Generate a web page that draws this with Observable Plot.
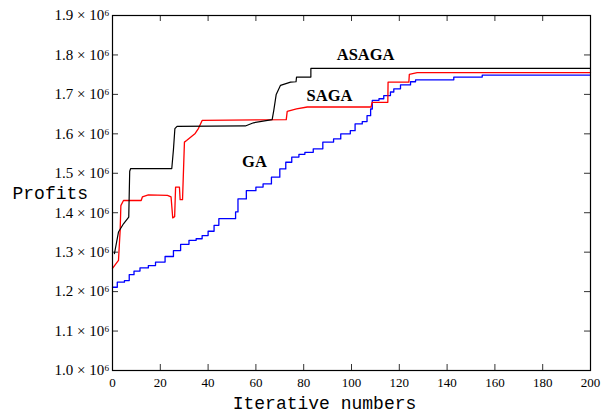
<!DOCTYPE html>
<html><head><meta charset="utf-8">
<script src="https://cdn.jsdelivr.net/npm/d3@7"></script>
<script src="https://cdn.jsdelivr.net/npm/@observablehq/plot@0.6"></script>
<style>body{margin:0;background:#fff}</style>
</head><body><div id="chart"></div>
<script>
// Profits in units of 10^6
const asagaX = [0.8, 2.5, 4.6, 6.8, 7.2, 7.6, 24.8, 25.5, 26.1, 27.0, 55.6, 59.0, 66.8, 67.5, 68.5, 70.3, 74.5, 76.8, 77.0, 83.0, 83.0, 200];
const asagaY = [1.296, 1.351, 1.372, 1.389, 1.505, 1.512, 1.512, 1.56, 1.613, 1.619, 1.620, 1.628, 1.636, 1.66, 1.70, 1.723, 1.731, 1.732, 1.744, 1.744, 1.766, 1.766];

const sagaX = [0, 2.5, 3.2, 3.5, 4.6, 12, 12.5, 15, 23, 24.5, 25.2, 26.0, 26.4, 28.0, 28.3, 29.3, 30.1, 31.0, 34.6, 36.0, 37.5, 72.7, 73.1, 77.0, 81.5, 108.2, 108.6, 115.2, 115.3, 124.0, 124.2, 127.5, 200];
const sagaY = [1.259, 1.279, 1.355, 1.418, 1.431, 1.431, 1.44, 1.445, 1.444, 1.44, 1.387, 1.39, 1.465, 1.465, 1.433, 1.433, 1.579, 1.583, 1.601, 1.614, 1.634, 1.636, 1.657, 1.663, 1.668, 1.668, 1.680, 1.680, 1.731, 1.731, 1.751, 1.755, 1.755];

const gaX = [0, 2, 5, 7, 9, 11.5, 15, 18, 22, 25.5, 28.5, 32, 35, 37.5, 40, 42.5, 44.5, 51.5, 52.5, 56, 60, 63, 66.5, 70, 72.5, 75, 78, 80.5, 84, 88, 92.5, 95.5, 99.5, 101.5, 104.5, 106.5, 108, 108.7, 111.5, 113.5, 116.3, 117.7, 120.5, 124.7, 126.8, 142.8, 154.7, 200];
const gaY = [1.211, 1.224, 1.228, 1.243, 1.252, 1.26, 1.266, 1.275, 1.289, 1.304, 1.32, 1.33, 1.334, 1.342, 1.353, 1.368, 1.385, 1.402, 1.435, 1.456, 1.465, 1.473, 1.49, 1.511, 1.528, 1.541, 1.548, 1.553, 1.562, 1.579, 1.587, 1.6, 1.608, 1.625, 1.631, 1.646, 1.663, 1.685, 1.689, 1.697, 1.706, 1.714, 1.724, 1.732, 1.737, 1.744, 1.749, 1.749];

const xTicks = [0, 20, 40, 60, 80, 100, 120, 140, 160, 180, 200];
const yTicks = [1.0, 1.1, 1.2, 1.3, 1.4, 1.5, 1.6, 1.7, 1.8, 1.9];
const yTickLabels = ["1.0 × 10⁶", "1.1 × 10⁶", "1.2 × 10⁶", "1.3 × 10⁶", "1.4 × 10⁶", "1.5 × 10⁶", "1.6 × 10⁶", "1.7 × 10⁶", "1.8 × 10⁶", "1.9 × 10⁶"];

const seriesNames = ["ASAGA", "SAGA", "GA"];
const seriesColors = ["#000000", "#ff0000", "#0000ff"];
const labelX = [105.9, 90.8, 59.4];
const labelY = [1.787, 1.683, 1.515];

const xTitle = "Iterative numbers";
const yTitle = "Profits";

const toRows = (xs, ys) => xs.map((x, i) => ({x, y: ys[i]}));
const asaga = toRows(asagaX, asagaY);
const saga = toRows(sagaX, sagaY);
const ga = toRows(gaX, gaY);
const labels = seriesNames.map((name, i) => ({name, x: labelX[i], y: labelY[i]}));
const fmtY = d => yTickLabels[yTicks.findIndex(t => Math.abs(t - d) < 1e-9)];

const W = 602, H = 415, mL = 112, mR = 12, mT = 15, mB = 45;
const fw = W - mL - mR, fh = H - mT - mB, tk = 6;

const chart = Plot.plot({
  width: W, height: H,
  marginLeft: mL, marginRight: mR, marginTop: mT, marginBottom: mB,
  x: {domain: [0, 200]},
  y: {domain: [1.0, 1.9]},
  style: {fontFamily: "'Liberation Serif', serif", fontSize: "13px", color: "#000", background: "#fff", overflow: "visible"},
  marks: [
    Plot.axisX({ticks: xTicks, tickSize: 0, tickPadding: 7, label: null}),
    Plot.axisY({ticks: yTicks, tickSize: 0, tickPadding: 3, tickFormat: fmtY, label: null, fontSize: 15}),
    // inward ticks on all four sides
    Plot.tickX(xTicks, {x: d => d, insetTop: fh - tk, stroke: "#333"}),
    Plot.tickX(xTicks, {x: d => d, insetBottom: fh - tk, stroke: "#333"}),
    Plot.tickY(yTicks, {y: d => d, insetRight: fw - tk, stroke: "#333"}),
    Plot.tickY(yTicks, {y: d => d, insetLeft: fw - tk, stroke: "#333"}),
    Plot.line(ga, {x: "x", y: "y", stroke: seriesColors[2], strokeWidth: 1.3, curve: "step-after"}),
    Plot.line(saga, {x: "x", y: "y", stroke: seriesColors[1], strokeWidth: 1.3}),
    Plot.line(asaga, {x: "x", y: "y", stroke: seriesColors[0], strokeWidth: 1.2}),
    Plot.frame({stroke: "#000", strokeWidth: 1.2}),
    Plot.text(labels, {x: "x", y: "y", text: "name", fontFamily: "'Liberation Serif', serif", fontWeight: "bold", fontSize: 16.5, lineAnchor: "bottom", fill: "#000"}),
    Plot.text([xTitle], {frameAnchor: "bottom", dx: -27, dy: 38, lineAnchor: "bottom", fontFamily: "'Liberation Mono', monospace", fontSize: 18, fill: "#000"}),
    Plot.text([yTitle], {frameAnchor: "left", dx: -100, dy: 6, textAnchor: "start", lineAnchor: "bottom", fontFamily: "'Liberation Mono', monospace", fontSize: 18, fill: "#000"})
  ]
});
document.getElementById("chart").appendChild(chart);
</script>
</body></html>
